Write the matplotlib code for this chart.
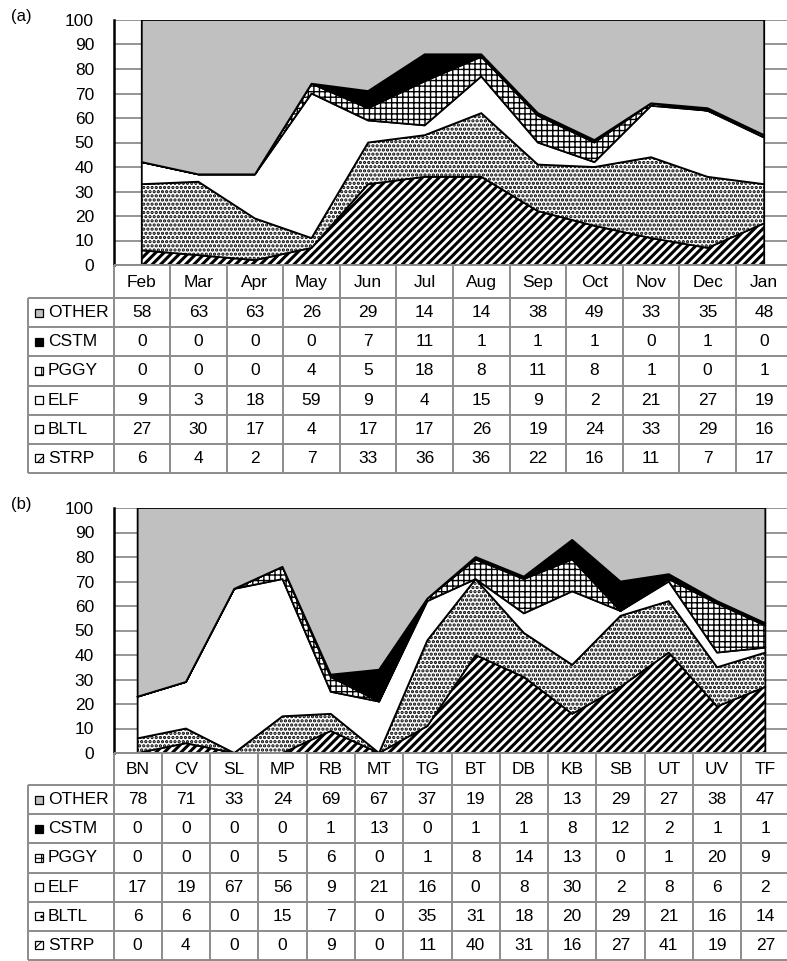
import numpy as np
import matplotlib.pyplot as plt
from matplotlib.patches import Rectangle

plt.rcParams['font.family'] = ['Liberation Sans', 'DejaVu Sans']
plt.rcParams['font.size'] = 12
plt.rcParams['hatch.linewidth'] = 1.6

# --------------------------------------------------------------------
# data (percent of catch)
series = ['OTHER', 'CSTM', 'PGGY', 'ELF', 'BLTL', 'STRP']

months = ['Feb', 'Mar', 'Apr', 'May', 'Jun', 'Jul', 'Aug', 'Sep', 'Oct', 'Nov', 'Dec', 'Jan']
a_other = [58, 63, 63, 26, 29, 14, 14, 38, 49, 33, 35, 48]
a_cstm = [0, 0, 0, 0, 7, 11, 1, 1, 1, 0, 1, 0]
a_pggy = [0, 0, 0, 4, 5, 18, 8, 11, 8, 1, 0, 1]
a_elf = [9, 3, 18, 59, 9, 4, 15, 9, 2, 21, 27, 19]
a_bltl = [27, 30, 17, 4, 17, 17, 26, 19, 24, 33, 29, 16]
a_strp = [6, 4, 2, 7, 33, 36, 36, 22, 16, 11, 7, 17]

sites = ['BN', 'CV', 'SL', 'MP', 'RB', 'MT', 'TG', 'BT', 'DB', 'KB', 'SB', 'UT', 'UV', 'TF']
b_other = [78, 71, 33, 24, 69, 67, 37, 19, 28, 13, 29, 27, 38, 47]
b_cstm = [0, 0, 0, 0, 1, 13, 0, 1, 1, 8, 12, 2, 1, 1]
b_pggy = [0, 0, 0, 5, 6, 0, 1, 8, 14, 13, 0, 1, 20, 9]
b_elf = [17, 19, 67, 56, 9, 21, 16, 0, 8, 30, 2, 8, 6, 2]
b_bltl = [6, 6, 0, 15, 7, 0, 35, 31, 18, 20, 29, 21, 16, 14]
b_strp = [0, 4, 0, 0, 9, 0, 11, 40, 31, 16, 27, 41, 19, 27]

data_a = dict(OTHER=a_other, CSTM=a_cstm, PGGY=a_pggy, ELF=a_elf, BLTL=a_bltl, STRP=a_strp)
data_b = dict(OTHER=b_other, CSTM=b_cstm, PGGY=b_pggy, ELF=b_elf, BLTL=b_bltl, STRP=b_strp)

# fill style for each series: face colour, hatch
styles = {
    'STRP': ('white', '////'),
    'BLTL': ('white', '....'),
    'ELF': ('white', ''),
    'PGGY': ('white', '+++'),
    'CSTM': ('black', ''),
    'OTHER': ('#c0c0c0', ''),
}
hatch_lw = {'STRP': 2.2, 'BLTL': 1.6, 'PGGY': 1.0}
key_hatch = {'STRP': '//', 'BLTL': '..', 'PGGY': '+'}

# --------------------------------------------------------------------
W, H = 787, 961
fig = plt.figure(figsize=(W / 100, H / 100), dpi=100)


def px_axes(x0, y0, x1, y1):
    return fig.add_axes([x0 / W, 1 - y1 / H, (x1 - x0) / W, (y1 - y0) / H])


def set_hlw(artist, lw):
    if hasattr(artist, 'set_hatch_linewidth'):
        artist.set_hatch_linewidth(lw)


def panel(cats, data, tag, y_top, y_zero, y_hdr, y_end, x_end):
    n = len(cats)
    x_axis = 113.5
    colw = (x_end - x_axis) / n

    # stacked area chart
    ax = px_axes(x_axis, y_top, x_end, y_zero)
    x = np.arange(n)
    base = np.zeros(n)
    for name in ['STRP', 'BLTL', 'ELF', 'PGGY', 'CSTM', 'OTHER']:
        if name == 'OTHER':
            top = np.full(n, 100.0)  # remainder up to 100 %
        else:
            top = np.minimum(base + np.array(data[name]), 100)
        fc, h = styles[name]
        lw = hatch_lw.get(name, 1.0)
        with plt.rc_context({'hatch.linewidth': lw}):
            p = ax.fill_between(x, base, top, facecolor=fc, edgecolor='black',
                                hatch=h, linewidth=1.3, zorder=2)
        set_hlw(p, lw)
        base = top
    ax.set_xlim(-0.5, n - 0.5)
    ax.set_ylim(0, 100)
    ax.set_yticks(range(0, 101, 10))
    ax.set_xticks([])
    ax.grid(axis='y', color='#8c8c8c', linewidth=1.3, zorder=0)
    ax.set_axisbelow(True)
    for s in ['top', 'right', 'bottom']:
        ax.spines[s].set_visible(False)
    ax.spines['left'].set_linewidth(1.8)
    ax.spines['left'].set_zorder(5)
    ax.tick_params(axis='y', length=0, pad=14, labelsize=12.5)
    ax.patch.set_alpha(0)
    fig.text(21 / W, 1 - (y_top - 4) / H, tag, ha='center', va='center', fontsize=12)

    # data table
    x_lab0 = 28
    tx = px_axes(x_lab0, y_zero, x_end, y_end)
    lab_left = -0.5 - (x_axis - x_lab0) / colw
    tx.set_xlim(lab_left, n - 0.5)
    tot = y_end - y_zero
    hdr = y_hdr - y_zero
    rowh = (y_end - y_hdr) / len(series)
    tx.set_ylim(tot, 0)
    tx.axis('off')
    lc = '#8c8c8c'
    for i, c in enumerate(cats):
        tx.text(i, hdr / 2 + 1, c, ha='center', va='center', fontsize=12.5)
    for r, name in enumerate(series):
        yc = hdr + (r + 0.5) * rowh
        for i, v in enumerate(data[name]):
            tx.text(i, yc, str(v), ha='center', va='center', fontsize=12.5)
        tx.text(lab_left + 20 / colw, yc, name, ha='left', va='center', fontsize=12.5)
        fc, h = styles[name]
        k = 8
        with plt.rc_context({'hatch.linewidth': 0.8}):
            key = Rectangle((lab_left + 7 / colw, yc - k / 2), k / colw, k,
                            facecolor=fc, edgecolor='black', hatch=key_hatch.get(name, h),
                            linewidth=0.9, clip_on=False, zorder=3)
        set_hlw(key, 0.8)
        tx.add_patch(key)
    tx.hlines([0], -0.5, n - 0.5, color=lc, linewidth=1.4, clip_on=False)
    tx.hlines([hdr + k * rowh for k in range(len(series) + 1)], lab_left, n - 0.5,
              color=lc, linewidth=1.4, clip_on=False)
    tx.vlines([i - 0.5 for i in range(n + 1)], 0, tot, color=lc, linewidth=1.4, clip_on=False)
    tx.vlines([lab_left], hdr, tot, color=lc, linewidth=1.4, clip_on=False)


panel(months, data_a, '(a)', 20, 265, 298, 473, 792.5)
panel(sites, data_b, '(b)', 508, 753, 785, 960, 789.5)

fig.savefig('out.png', dpi=100)
